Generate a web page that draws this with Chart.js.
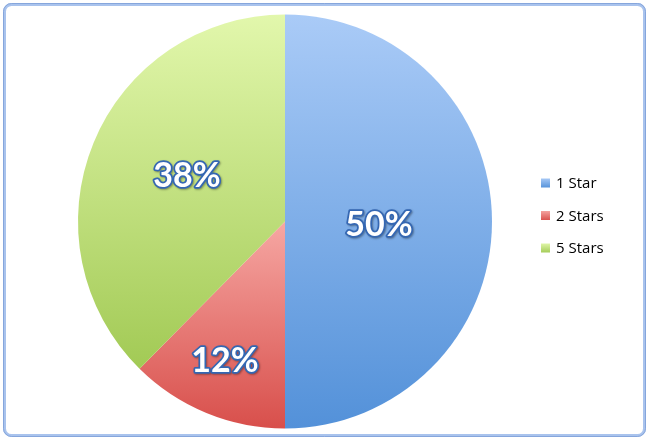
<!doctype html>
<html lang="en">
<head>
<meta charset="utf-8">
<title>Star ratings</title>
<script src="https://cdn.jsdelivr.net/npm/chart.js@4/dist/chart.umd.min.js"></script>
<style>
  html, body { margin: 0; padding: 0; background: #fff; }
  #wrap { position: relative; width: 649px; height: 444px; }
</style>
</head>
<body>
<div id="wrap"><canvas id="pie"></canvas></div>
<script>
const labels = ['1 Star', '2 Stars', '5 Stars'];
const shares = [50, 12.4, 37.6];
const percentLabels = ['50%', '12%', '38%'];

const topColors = ['#aacbf7', '#f6a7a3', '#e2f7ac'];
const bottomColors = ['#5391d9', '#d84f4b', '#a2ca55'];
// where each percentage sits: fraction of the radius, and a small turn (degrees) off the slice middle
const labelDepth = [0.454, 0.734, 0.522];
const labelTurn = [2, 1, 2.6];

// vertical extent of a slice, so each slice gets its own top-to-bottom gradient
function sliceExtent(i, cy, r) {
  const total = shares.reduce((a, b) => a + b, 0);
  let before = 0;
  for (let k = 0; k < i; k++) before += shares[k];
  const a0 = -Math.PI / 2 + before / total * Math.PI * 2;
  const a1 = a0 + shares[i] / total * Math.PI * 2;
  const ys = [cy, cy + r * Math.sin(a0), cy + r * Math.sin(a1)];
  [-Math.PI / 2, Math.PI / 2, Math.PI * 1.5].forEach(a => {
    if (a > a0 && a < a1) ys.push(cy + r * Math.sin(a));
  });
  return [Math.min(...ys), Math.max(...ys)];
}

function sliceFill(context) {
  const i = context.dataIndex;
  const area = context.chart.chartArea;
  if (!area) return bottomColors[i];
  const cy = (area.top + area.bottom) / 2;
  const r = Math.min(area.right - area.left, area.bottom - area.top) / 2;
  const [y0, y1] = sliceExtent(i, cy, r);
  const g = context.chart.ctx.createLinearGradient(0, y0, 0, y1);
  g.addColorStop(0, topColors[i]);
  g.addColorStop(1, bottomColors[i]);
  return g;
}

const framePlugin = {
  id: 'frame',
  beforeDraw(chart) {
    const ctx = chart.ctx;
    ctx.save();
    ctx.fillStyle = '#fff';
    ctx.fillRect(0, 0, chart.width, chart.height);
    ctx.beginPath();
    ctx.roundRect(4.5, 4.5, 640, 431, 7);
    ctx.lineWidth = 3;
    ctx.strokeStyle = '#a9c3ed';
    ctx.stroke();
    ctx.beginPath();
    ctx.roundRect(3.5, 3.5, 642, 433, 8);
    ctx.lineWidth = 1;
    ctx.strokeStyle = '#86a6dc';
    ctx.stroke();
    ctx.restore();
  }
};

const labelPlugin = {
  id: 'percentLabels',
  afterDatasetsDraw(chart) {
    const ctx = chart.ctx;
    const arcs = chart.getDatasetMeta(0).data;
    ctx.save();
    ctx.font = 'bold 34px Lato';
    ctx.textAlign = 'center';
    ctx.textBaseline = 'middle';
    ctx.lineJoin = 'round';
    arcs.forEach((arc, i) => {
      const p = arc.getProps(['x', 'y', 'startAngle', 'endAngle', 'outerRadius'], true);
      const mid = (p.startAngle + p.endAngle) / 2 + labelTurn[i] * Math.PI / 180;
      const x = p.x + Math.cos(mid) * p.outerRadius * labelDepth[i];
      const y = p.y + Math.sin(mid) * p.outerRadius * labelDepth[i];
      ctx.shadowColor = 'rgba(0,0,0,0.35)';
      ctx.shadowOffsetX = 1;
      ctx.shadowOffsetY = 1;
      ctx.shadowBlur = 2;
      ctx.lineWidth = 3.5;
      ctx.strokeStyle = '#3467b3';
      ctx.strokeText(percentLabels[i], x, y);
      ctx.shadowColor = 'transparent';
      ctx.fillStyle = '#ffffff';
      ctx.fillText(percentLabels[i], x, y);
    });
    ctx.restore();
  }
};

const legendPlugin = {
  id: 'sideLegend',
  afterDraw(chart) {
    const ctx = chart.ctx;
    ctx.save();
    ctx.font = '15px "Open Sans"';
    ctx.textBaseline = 'middle';
    labels.forEach((name, i) => {
      const y = 183 + i * 32.5;
      const g = ctx.createLinearGradient(0, y - 5, 0, y + 5);
      g.addColorStop(0, topColors[i]);
      g.addColorStop(1, bottomColors[i]);
      ctx.fillStyle = g;
      ctx.fillRect(541, y - 4.5, 9, 9);
      ctx.fillStyle = '#000';
      ctx.fillText(name, 556, y + 1);
    });
    ctx.restore();
  }
};

new Chart(document.getElementById('pie'), {
  type: 'pie',
  data: {
    labels: labels,
    datasets: [{
      data: shares,
      backgroundColor: sliceFill,
      borderWidth: 0
    }]
  },
  options: {
    responsive: true,
    maintainAspectRatio: false,
    animation: false,
    layout: { padding: { left: 78, right: 157, top: 13, bottom: 14 } },
    plugins: {
      legend: { display: false },
      tooltip: { enabled: false }
    }
  },
  plugins: [framePlugin, labelPlugin, legendPlugin]
});
</script>
</body>
</html>
